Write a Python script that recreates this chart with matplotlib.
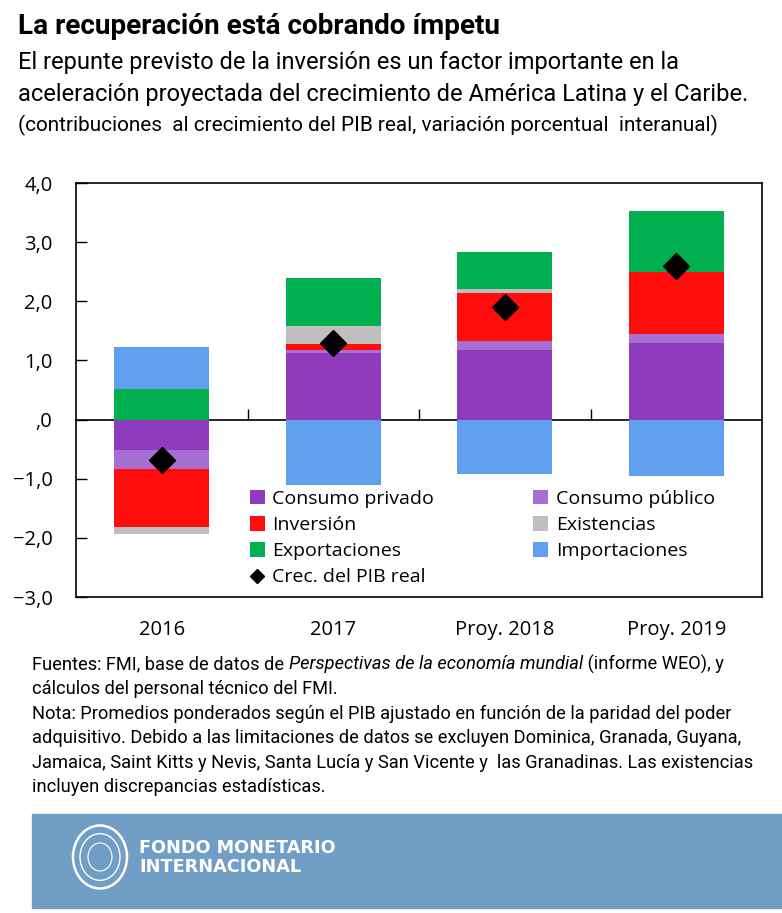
"""Contribuciones al crecimiento del PIB real, America Latina y el Caribe."""
import matplotlib
matplotlib.use("Agg")
import matplotlib.pyplot as plt
from matplotlib.lines import Line2D
from matplotlib.patches import Circle, Rectangle
from matplotlib.ticker import FuncFormatter
import numpy as np

# --- data -------------------------------------------------------------
categorias = ["2016", "2017", "Proy. 2018", "Proy. 2019"]
consumo_privado = [-0.52, 1.12, 1.18, 1.29]
consumo_publico = [-0.32, 0.06, 0.15, 0.15]
inversion = [-0.97, 0.09, 0.81, 1.05]
existencias = [-0.13, 0.31, 0.07, 0.00]
exportaciones = [0.52, 0.82, 0.63, 1.04]
importaciones = [0.71, -1.11, -0.92, -0.96]
crec_pib = [-0.69, 1.29, 1.91, 2.59]

series = [
    ("Consumo privado", consumo_privado, "#8E3BBE"),
    ("Consumo público", consumo_publico, "#A96ED2"),
    ("Inversión", inversion, "#FF0D0D"),
    ("Existencias", existencias, "#BFBFBF"),
    ("Exportaciones", exportaciones, "#00AF50"),
    ("Importaciones", importaciones, "#61A0EE"),
]

BODY = "Open Sans"
NARROW = "Roboto"
plt.rcParams["font.family"] = [BODY, "DejaVu Sans"]

W, H = 782, 913
fig = plt.figure(figsize=(W / 100, H / 100), dpi=100)
ax = fig.add_axes([76 / W, 1 - 597 / H, (762 - 76) / W, (597 - 183) / H])
renderer = fig.canvas.get_renderer()

x = np.arange(len(categorias))
pos_base = np.zeros(len(x))
neg_base = np.zeros(len(x))
handles = {}
for label, vals, color in series:
    vals = np.array(vals)
    bottom = np.where(vals >= 0, pos_base, neg_base)
    handles[label] = ax.bar(x, vals, width=0.555, bottom=bottom,
                            color=color, linewidth=0, zorder=2)
    pos_base += np.clip(vals, 0, None)
    neg_base += np.clip(vals, None, 0)

ax.plot(x, crec_pib, linestyle="none", marker="D", markersize=13,
        color="black", zorder=4)

ymin, ymax = -3, 4
ax.set_ylim(ymin, ymax)
ax.set_xlim(-0.5, len(x) - 0.5)
ax.set_yticks(np.arange(ymin, ymax + 1))


def fmt(v, pos):
    if v == 0:
        return ",0"
    return f"{v:.1f}".replace(".", ",").replace("-", "\u2212")


ax.yaxis.set_major_formatter(FuncFormatter(fmt))
ax.tick_params(axis="y", direction="in", length=8, width=1, pad=17,
               labelsize=14.5)
ax.set_xticks(x)
ax.set_xticklabels(categorias)
ax.tick_params(axis="x", length=0, pad=16.5, labelsize=14.5)
for sp in ax.spines.values():
    sp.set_linewidth(1.2)

# zero line with small separators between the categories
zero = ax.secondary_xaxis((0 - ymin) / (ymax - ymin))
zero.set_xticks([0.5, 1.5, 2.5])
zero.tick_params(direction="in", length=8, width=1, labelbottom=False,
                 labeltop=False)
for sp in zero.spines.values():
    sp.set_linewidth(1.2)

order = ["Consumo privado", "Inversión", "Exportaciones"]
leg_handles = [handles[k] for k in order]
leg_labels = list(order)
leg_handles.append(Line2D([], [], linestyle="none", marker="D",
                          markersize=7, color="black"))
leg_labels.append("Crec. del PIB real")
for k in ["Consumo público", "Existencias", "Importaciones"]:
    leg_handles.append(handles[k])
    leg_labels.append(k)
ax.legend(leg_handles, leg_labels, ncol=2, loc="upper left",
          bbox_to_anchor=(250 / W, 1 - 490 / H),
          bbox_transform=fig.transFigure, frameon=False,
          prop={"size": 14}, handlelength=0.75,
          handleheight=0.75, handletextpad=0.4, labelspacing=0.42,
          columnspacing=5.1, borderpad=0, borderaxespad=0)


# --- text helpers ---------------------------------------------------------
def fit_size(text, width_px, **kw):
    """Font size that gives the text the wanted width in pixels."""
    t = fig.text(0, 0, text, fontsize=10, **kw)
    w = t.get_window_extent(renderer).width
    t.remove()
    return 10 * width_px / w


def put_runs(x0, y0, runs, size):
    xx = x0
    for txt, style in runs:
        t = fig.text(xx / W, 1 - y0 / H, txt, fontsize=size, family=NARROW,
                     style=style, va="center")
        xx += t.get_window_extent(renderer).width


# --- titles -------------------------------------------------------------
titulo = "La recuperación está cobrando ímpetu"
sub1 = "El repunte previsto de la inversión es un factor importante en la"
sub2 = "aceleración proyectada del crecimiento de América Latina y el Caribe."
sub3 = ("(contribuciones  al crecimiento del PIB real, variación porcentual"
        "  interanual)")

s_tit = fit_size(titulo, 500 - 18, family=NARROW, fontweight="bold")
s_sub = fit_size(sub2, 747 - 18, family=NARROW)
s_par = fit_size(sub3, 718 - 18, family=NARROW)
fig.text(18 / W, 1 - 27 / H, titulo, fontsize=s_tit, fontweight="bold",
         family=NARROW, va="center")
fig.text(18 / W, 1 - 62 / H, sub1, fontsize=s_sub, family=NARROW,
         va="center")
fig.text(18 / W, 1 - 95 / H, sub2, fontsize=s_sub, family=NARROW,
         va="center")
fig.text(18 / W, 1 - 125 / H, sub3, fontsize=s_par, family=NARROW,
         va="center")

# --- notes --------------------------------------------------------------
notas = [
    "cálculos del personal técnico del FMI.",
    "Nota: Promedios ponderados según el PIB ajustado en función de la "
    "paridad del poder",
    "adquisitivo. Debido a las limitaciones de datos se excluyen Dominica, "
    "Granada, Guyana,",
    "Jamaica, Saint Kitts y Nevis, Santa Lucía y San Vicente y  las "
    "Granadinas. Las existencias",
    "incluyen discrepancias estadísticas.",
]
s_nota = fit_size(notas[2], 740 - 32, family=NARROW)
put_runs(32, 664, [("Fuentes: FMI, base de datos de ", "normal"),
                   ("Perspectivas de la economía mundial", "italic"),
                   (" (informe WEO), y", "normal")], s_nota)
for i, line in enumerate(notas):
    put_runs(32, 689 + i * 24.6, [(line, "normal")], s_nota)

# --- footer band with logo ------------------------------------------------
fig.patches.append(Rectangle((32 / W, 1 - 908 / H), 1 - 32 / W, 94 / H,
                             transform=fig.transFigure, color="#719EC4",
                             zorder=0))
cx, cy = 100, 857
for r, lw in [(27, 1.8), (20, 1.0), (12, 0.8)]:
    fig.patches.append(Circle((cx / W, 1 - cy / H), r / W,
                              transform=fig.transFigure, fill=False,
                              edgecolor="white", linewidth=lw))
fig.text(139 / W, 1 - 848 / H, "FONDO MONETARIO", color="white",
         fontsize=12.7, fontweight="bold", family="DejaVu Sans",
         va="center")
fig.text(139 / W, 1 - 867 / H, "INTERNACIONAL", color="white",
         fontsize=12.7, fontweight="bold", family="DejaVu Sans",
         va="center")

fig.savefig("out.png", dpi=100)
